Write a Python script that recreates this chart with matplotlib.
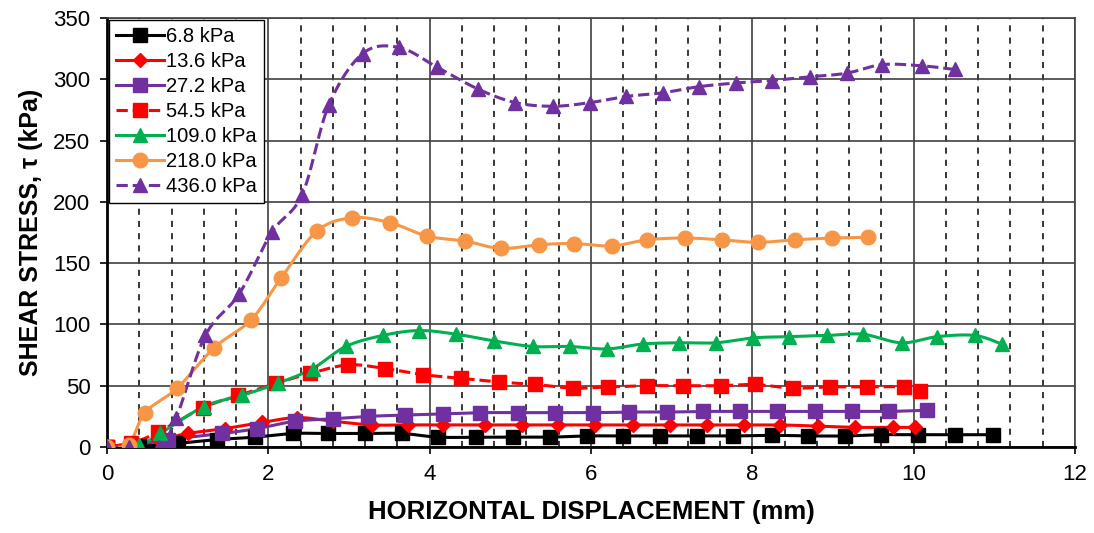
import numpy as np
import matplotlib
matplotlib.use("Agg")
import matplotlib.pyplot as plt
from matplotlib.ticker import MultipleLocator

plt.rcParams['font.family'] = ['Liberation Sans', 'DejaVu Sans']

# Horizontal displacement (mm) and shear stress (kPa) for each normal stress
x_68 = [0, 0.4, 0.88, 1.36, 1.83, 2.3, 2.74, 3.2, 3.66, 4.1, 4.58, 5.03, 5.49, 5.95, 6.4,
        6.86, 7.31, 7.76, 8.24, 8.69, 9.15, 9.6, 10.05, 10.51, 10.98]
y_68 = [0, 1, 3, 6, 8, 11, 11, 11, 11, 8, 8, 8, 8, 9, 9, 9, 9, 9, 9.5, 9, 9, 10, 10, 10, 10]

x_136 = [0, 0.3, 0.65, 1.0, 1.46, 1.92, 2.36, 2.8, 3.28, 3.73, 4.17, 4.69, 5.14, 5.59, 6.05,
         6.52, 6.98, 7.44, 7.9, 8.34, 8.81, 9.27, 9.74, 10.02]
y_136 = [0, 3, 6, 11, 15, 20, 24, 21, 18, 18, 18, 18, 18, 18, 18, 18, 18, 18, 18, 18, 17, 16, 16, 16]

x_272 = [0, 0.3, 0.76, 1.43, 1.86, 2.33, 2.8, 3.24, 3.69, 4.17, 4.62, 5.09, 5.55, 6.02, 6.47,
         6.94, 7.39, 7.85, 8.3, 8.78, 9.24, 9.7, 10.17]
y_272 = [0, 1, 6, 11, 15, 21, 23, 25, 26, 27, 28, 28, 28, 28, 28.5, 28.5, 29, 29, 29, 29, 29, 29, 30]

x_545 = [0, 0.3, 0.63, 1.19, 1.63, 2.1, 2.52, 2.99, 3.45, 3.92, 4.39, 4.86, 5.31, 5.78, 6.21,
         6.69, 7.14, 7.61, 8.03, 8.5, 8.96, 9.42, 9.88, 10.08]
y_545 = [0, 3, 12, 32, 42, 52, 60, 67, 64, 59, 56, 53, 51, 48, 49, 50, 50, 50, 51, 48, 49, 49, 49, 46]

x_109 = [0, 0.4, 0.66, 1.2, 1.67, 2.12, 2.55, 2.96, 3.42, 3.87, 4.33, 4.8, 5.28, 5.74, 6.2,
         6.64, 7.09, 7.55, 8.01, 8.45, 8.93, 9.37, 9.85, 10.29, 10.76, 11.09]
y_109 = [0, 2, 11, 33, 42, 52, 64, 82, 91, 95, 92, 86.5, 82, 82, 80, 84, 85, 85, 89, 90, 91, 92,
         85, 90, 91, 84]

x_218 = [0, 0.27, 0.47, 0.87, 1.33, 1.79, 2.16, 2.6, 3.04, 3.51, 3.97, 4.44, 4.88, 5.36, 5.79,
         6.26, 6.69, 7.17, 7.62, 8.07, 8.53, 8.99, 9.43]
y_218 = [0, 2, 28, 48, 81, 104, 138, 176, 187, 183, 172, 168, 162, 165, 166, 164, 169, 170.5,
         169, 167, 169, 170.5, 171]

x_436 = [0, 0.27, 0.64, 0.86, 1.22, 1.64, 2.04, 2.42, 2.75, 3.17, 3.62, 4.09, 4.6, 5.06, 5.53,
         5.99, 6.44, 6.89, 7.34, 7.8, 8.24, 8.71, 9.17, 9.61, 10.1, 10.51]
y_436 = [0, 0, 0, 24, 91, 125, 175, 206, 279, 321, 326, 310, 292, 281, 278, 281, 286, 289, 294,
         297, 299, 302, 305, 312, 311, 308]

labels = ['6.8 kPa', '13.6 kPa', '27.2 kPa', '54.5 kPa', '109.0 kPa', '218.0 kPa', '436.0 kPa']
colors = ['#000000', '#FF0000', '#7030A0', '#FF0000', '#00B050', '#F79646', '#7030A0']
markers = ['s', 'D', 's', 's', '^', 'o', '^']
styles = ['-', '-', '-', '--', '-', '-', '--']
msizes = [9.5, 7.5, 9.5, 9.5, 10, 10.5, 10]
series = [(x_68, y_68), (x_136, y_136), (x_272, y_272), (x_545, y_545),
          (x_109, y_109), (x_218, y_218), (x_436, y_436)]


def smooth(xs, ys, n=12):
    """Catmull-Rom curve through the points, used for the connecting lines."""
    p = np.column_stack([xs, ys]).astype(float)
    p = np.vstack([p[0], p, p[-1]])
    out = []
    t = np.linspace(0, 1, n, endpoint=False)
    for i in range(1, len(p) - 2):
        p0, p1, p2, p3 = p[i - 1], p[i], p[i + 1], p[i + 2]
        tt = t[:, None]
        seg = 0.5 * ((2 * p1) + (-p0 + p2) * tt + (2 * p0 - 5 * p1 + 4 * p2 - p3) * tt ** 2
                     + (-p0 + 3 * p1 - 3 * p2 + p3) * tt ** 3)
        out.append(seg)
    out.append(p[-2][None, :])
    c = np.vstack(out)
    return c[:, 0], c[:, 1]


fig = plt.figure(figsize=(10.94, 5.33), dpi=100)
ax = fig.add_axes([0.0978, 0.1614, 0.8848, 0.8048])

handles = []
for (xs, ys), lab, c, m, ls, ms in zip(series, labels, colors, markers, styles, msizes):
    sx, sy = smooth(xs, ys)
    ax.plot(sx, sy, color=c, ls=ls, lw=2.2, zorder=3)
    ax.plot(xs, ys, ls='none', marker=m, ms=ms, color=c, mec=c, zorder=4)
    h, = ax.plot([], [], color=c, ls=ls, lw=2.2, marker=m, ms=ms, mec=c)
    handles.append(h)

ax.set_xlim(0, 12)
ax.set_ylim(0, 350)
ax.xaxis.set_major_locator(MultipleLocator(2))
ax.xaxis.set_minor_locator(MultipleLocator(0.4))
ax.yaxis.set_major_locator(MultipleLocator(50))

ax.grid(which='major', axis='both', color='#404040', lw=1.2, ls='-', zorder=1)
ax.grid(which='minor', axis='x', color='black', lw=1.1, ls=(0, (4, 4)), zorder=1)
ax.set_axisbelow(True)

ax.tick_params(axis='both', which='major', direction='out', length=5, width=1.2,
               labelsize=16, colors='black', pad=7)
ax.tick_params(axis='x', which='minor', length=0)
for side in ['top', 'right']:
    ax.spines[side].set_linewidth(1.2)
    ax.spines[side].set_color('#404040')
for side in ['left', 'bottom']:
    ax.spines[side].set_linewidth(2)
    ax.spines[side].set_color('black')

ax.set_xlabel('HORIZONTAL DISPLACEMENT (mm)', fontsize=18.5, fontweight='bold', labelpad=11)
ax.set_ylabel('SHEAR STRESS, τ (kPa)', fontsize=18, fontweight='bold', labelpad=7)

leg = ax.legend(handles, labels, loc='upper left', fontsize=14.5, frameon=True, fancybox=False,
                borderaxespad=0.1, handlelength=2.4, handletextpad=0.1, labelspacing=0.3,
                borderpad=0.35)
leg.get_frame().set_edgecolor('black')
leg.get_frame().set_linewidth(1)
leg.get_frame().set_alpha(1)
leg.set_zorder(5)

fig.savefig('out.png', dpi=100)
